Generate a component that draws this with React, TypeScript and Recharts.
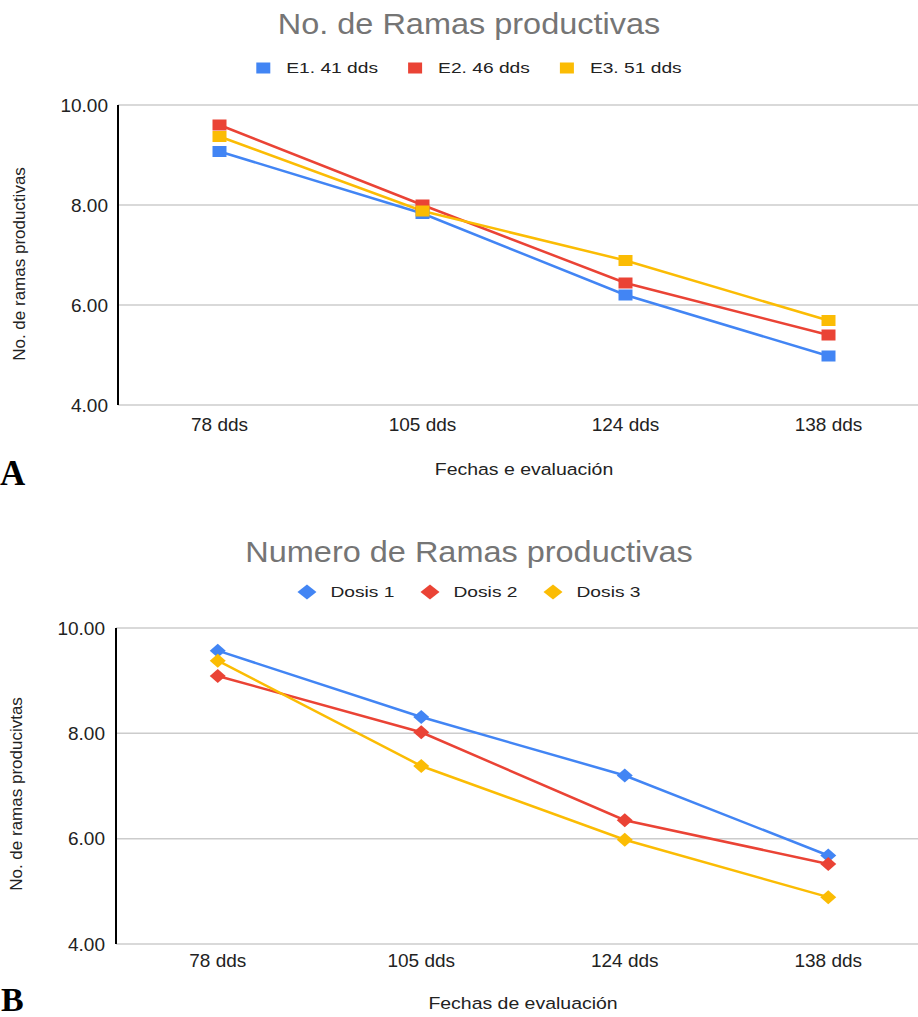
import React from 'react';
import { LineChart, Line, XAxis, YAxis, CartesianGrid, Legend } from 'recharts';

// ---------------- data ----------------
const categories = ['78 dds', '105 dds', '124 dds', '138 dds'];
const yTicks = [4, 6, 8, 10];

const titleA = 'No. de Ramas productivas';
const namesA = ['E1. 41 dds', 'E2. 46 dds', 'E3. 51 dds'];
const e1 = [9.07, 7.83, 6.2, 4.98];
const e2 = [9.6, 8.0, 6.44, 5.4];
const e3 = [9.37, 7.88, 6.89, 5.69];
const xTitleA = 'Fechas e evaluación';
const yTitleA = 'No. de ramas productivas';

const titleB = 'Numero de Ramas productivas';
const namesB = ['Dosis 1', 'Dosis 2', 'Dosis 3'];
const dosis1 = [9.57, 8.31, 7.2, 5.68];
const dosis2 = [9.09, 8.02, 6.35, 5.52];
const dosis3 = [9.38, 7.38, 5.98, 4.89];
const xTitleB = 'Fechas de evaluación';
const yTitleB = 'No. de ramas producivtas';

const colors = ['#4285F4', '#EA4335', '#FBBC04'];

const dataA = categories.map((c, i) => ({ cat: c, s0: e1[i], s1: e2[i], s2: e3[i] }));
const dataB = categories.map((c, i) => ({ cat: c, s0: dosis1[i], s1: dosis2[i], s2: dosis3[i] }));

// ---------------- styling ----------------
const FONT = 'Arial, "Liberation Sans", Helvetica, sans-serif';
const SERIF = '"Liberation Serif", "Times New Roman", Times, serif';
const CHART_W = 940;
const LEG_FS = 15;
const LEG_SX = 1.28;
const TITLE_FS = 29;
const TITLE_SX = 1.12;
const XT_FS = 16.5;
const XT_SX = 1.18;

let measureCtx: CanvasRenderingContext2D | null = null;
function measureText(text: string, size: number): number {
  if (!measureCtx) {
    const c = document.createElement('canvas');
    measureCtx = c.getContext('2d');
  }
  if (!measureCtx) return text.length * size * 0.5;
  measureCtx.font = `${size}px ${FONT}`;
  return measureCtx.measureText(text).width;
}

type Cfg = {
  title: string;
  names: string[];
  data: any[];
  marker: 'square' | 'diamond';
  top: number;
  height: number;
  legendH: number;
  titleY: number;
  legendY: number;
  centerX: number;
  iconGap: number;
  itemGap: number;
  yAxisW: number;
  bottom: number;
  yTickMargin: number;
  xTickOff: number;
  xTitle: string;
  xTitleOff: number;
  yTitle: string;
  yTitleX: number;
  yTitleShift: number;
};

const cfgA: Cfg = {
  title: titleA,
  names: namesA,
  data: dataA,
  marker: 'square',
  top: 0,
  height: 500,
  legendH: 105,
  titleY: 34,
  legendY: 68,
  centerX: 469,
  iconGap: 16,
  itemGap: 30,
  yAxisW: 118,
  bottom: 65,
  yTickMargin: 10,
  xTickOff: 26,
  xTitle: xTitleA,
  xTitleOff: 70,
  yTitle: yTitleA,
  yTitleX: 19.5,
  yTitleShift: 9,
};

const cfgB: Cfg = {
  title: titleB,
  names: namesB,
  data: dataB,
  marker: 'diamond',
  top: 510,
  height: 507,
  legendH: 118,
  titleY: 51.7,
  legendY: 82,
  centerX: 469,
  iconGap: 14,
  itemGap: 26,
  yAxisW: 116,
  bottom: 43,
  yTickMargin: 11,
  xTickOff: 23,
  xTitle: xTitleB,
  xTitleOff: 65,
  yTitle: yTitleB,
  yTitleX: 16,
  yTitleShift: 8,
};

function LegendBlock({ payload, cfg }: { payload: any[]; cfg: Cfg }) {
  const items = (payload || []).map((e: any) => ({ name: String(e.value), color: e.color }));
  const iconW = cfg.marker === 'square' ? 14 : 19;
  const widths = items.map((it) => measureText(it.name, LEG_FS) * LEG_SX);
  const total =
    widths.reduce((s, w) => s + iconW + cfg.iconGap + w, 0) + cfg.itemGap * Math.max(0, items.length - 1);
  let x = cfg.centerX - total / 2;
  const cy = cfg.legendY;
  const nodes: any[] = [];
  items.forEach((it, i) => {
    if (cfg.marker === 'square') {
      nodes.push(<rect key={`i${i}`} x={x} y={cy - 5.5} width={14} height={11} fill={it.color} />);
    } else {
      nodes.push(
        <polygon
          key={`i${i}`}
          points={`${x},${cy} ${x + 9.5},${cy - 7.5} ${x + 19},${cy} ${x + 9.5},${cy + 7.5}`}
          fill={it.color}
        />
      );
    }
    const tx = x + iconW + cfg.iconGap;
    nodes.push(
      <text
        key={`t${i}`}
        transform={`translate(${tx} ${cy + 5.4}) scale(${LEG_SX} 1)`}
        fontSize={LEG_FS}
        fontFamily={FONT}
        fill="#222222"
      >
        {it.name}
      </text>
    );
    x = tx + widths[i] + cfg.itemGap;
  });
  return (
    <svg width={938} height={cfg.legendH} style={{ display: 'block' }}>
      <text
        transform={`translate(${cfg.centerX} ${cfg.titleY}) scale(${TITLE_SX} 1)`}
        textAnchor="middle"
        fontSize={TITLE_FS}
        fontFamily={FONT}
        fill="#757575"
      >
        {cfg.title}
      </text>
      {nodes}
    </svg>
  );
}

function makeDot(color: string, marker: 'square' | 'diamond', sid: string) {
  return (p: any) => {
    const k = `${sid}-${p.index}`;
    if (p.cx == null || p.cy == null) return <g key={k} />;
    const { cx, cy } = p;
    if (marker === 'square') {
      return <rect key={k} x={cx - 7} y={cy - 5.5} width={14} height={11} fill={color} />;
    }
    return (
      <polygon
        key={k}
        points={`${cx - 8},${cy} ${cx},${cy - 7} ${cx + 8},${cy} ${cx},${cy + 7}`}
        fill={color}
      />
    );
  };
}

function Panel({ cfg }: { cfg: Cfg }) {
  const plotLeft = cfg.yAxisW;
  const plotRight = CHART_W - 10;
  const plotW = plotRight - plotLeft;
  const pad = plotW / (categories.length * 2);
  const plotTop = cfg.legendH;
  const plotBottom = cfg.height - cfg.bottom - 30;

  const YTick = (p: any) => (
    <text
      x={p.x}
      y={p.y}
      dy={6.8}
      textAnchor="end"
      fontSize={19}
      fontFamily={FONT}
      fill="#222222"
    >
      {Number(p.payload.value).toFixed(2)}
    </text>
  );
  const XTick = (p: any) => (
    <text
      x={p.x}
      y={p.y}
      dy={cfg.xTickOff}
      textAnchor="middle"
      fontSize={19}
      fontFamily={FONT}
      fill="#222222"
    >
      {p.payload.value}
    </text>
  );
  const xLabel = (props: any) => {
    const vb = props && props.viewBox ? props.viewBox : null;
    const cx = vb ? vb.x + vb.width / 2 : (plotLeft + plotRight) / 2;
    const by = (vb ? vb.y : plotBottom) + cfg.xTitleOff;
    return (
      <text
        transform={`translate(${cx} ${by}) scale(${XT_SX} 1)`}
        textAnchor="middle"
        fontSize={XT_FS}
        fontFamily={FONT}
        fill="#222222"
      >
        {cfg.xTitle}
      </text>
    );
  };
  const yLabel = (props: any) => {
    const vb = props && props.viewBox ? props.viewBox : null;
    const cy = (vb ? vb.y + vb.height / 2 : (plotTop + plotBottom) / 2) + cfg.yTitleShift;
    const cx = cfg.yTitleX;
    return (
      <text
        transform={`translate(${cx} ${cy}) rotate(-90)`}
        textAnchor="middle"
        dominantBaseline="central"
        fontSize={17}
        fontFamily={FONT}
        fill="#222222"
      >
        {cfg.yTitle}
      </text>
    );
  };

  const keys = ['s0', 's1', 's2'];
  return (
    <div style={{ position: 'absolute', left: 0, top: cfg.top, width: CHART_W, height: cfg.height }}>
      <LineChart
        width={CHART_W}
        height={cfg.height}
        data={cfg.data}
        margin={{ top: 0, right: 10, bottom: cfg.bottom, left: 0 }}
      >
        <CartesianGrid vertical={false} stroke="#cccccc" strokeWidth={1.5} />
        <XAxis
          dataKey="cat"
          height={30}
          axisLine={false}
          tickLine={false}
          tickSize={0}
          tickMargin={0}
          padding={{ left: pad, right: pad }}
          tick={XTick}
          interval={0}
          label={xLabel}
        />
        <YAxis
          type="number"
          domain={[4, 10]}
          ticks={yTicks}
          width={cfg.yAxisW}
          axisLine={{ stroke: '#000000', strokeWidth: 2 }}
          tickLine={false}
          tickSize={0}
          tickMargin={cfg.yTickMargin}
          tick={YTick}
          allowDataOverflow
          label={yLabel}
        />
        <Legend
          verticalAlign="top"
          align="center"
          wrapperStyle={{ left: 0, top: 0, width: 938 }}
          content={(props: any) => <LegendBlock payload={props.payload} cfg={cfg} />}
        />
        {keys.map((k, i) => (
          <Line
            key={k}
            type="linear"
            dataKey={k}
            name={cfg.names[i]}
            stroke={colors[i]}
            strokeWidth={2.5}
            legendType={cfg.marker}
            dot={makeDot(colors[i], cfg.marker, k)}
            activeDot={false}
            isAnimationActive={false}
          />
        ))}
      </LineChart>
    </div>
  );
}

export default function App() {
  return (
    <div
      style={{
        position: 'absolute',
        left: 0,
        top: 0,
        width: 918,
        height: 1017,
        overflow: 'hidden',
        background: '#ffffff',
      }}
    >
      <Panel cfg={cfgA} />
      <Panel cfg={cfgB} />
      <svg
        width={60}
        height={1017}
        style={{ position: 'absolute', left: 0, top: 0, pointerEvents: 'none' }}
      >
        <text x={0} y={485} fontSize={35} fontWeight="bold" fontFamily={SERIF} fill="#000">
          A
        </text>
        <text x={1} y={1011} fontSize={34} fontWeight="bold" fontFamily={SERIF} fill="#000">
          B
        </text>
      </svg>
    </div>
  );
}
